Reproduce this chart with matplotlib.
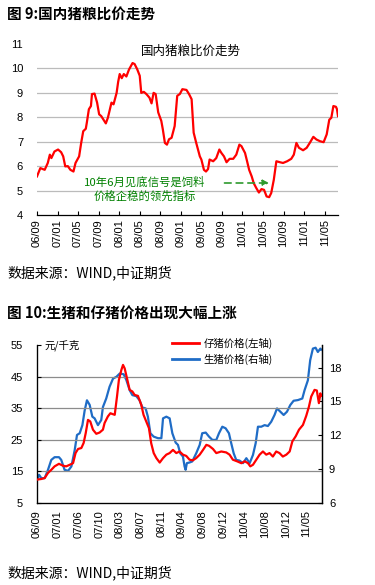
import matplotlib
matplotlib.use("Agg")
import matplotlib.pyplot as plt

plt.rcParams['font.family'] = ['Liberation Sans', 'Noto Sans CJK SC', 'DejaVu Sans']
CJK = ['Noto Sans CJK SC', 'DejaVu Sans']

# ---------------- Chart 9 data: hog/grain price ratio ----------------
ratio_labels = ["06/09", "07/01", "07/05", "07/09", "08/01", "08/05", "08/09", "09/01",
                "09/05", "09/09", "10/01", "10/05", "10/09", "11/01", "11/05"]
# months since 2006-09
ratio_month = [0, 0.65, 1.5, 2.1, 2.5, 2.8, 3.4, 4.1, 4.7, 5.1, 5.5, 6.0, 6.5, 7.1, 7.5, 8.2,
               8.6, 9.0, 9.5, 9.7, 10.1, 10.5, 10.7, 11.2, 11.7, 12.1, 12.5, 13.4, 13.8, 14.5,
               14.9, 15.5, 15.8, 16.1, 16.5, 16.9, 17.4, 17.9, 18.6, 19.0, 19.5, 20.0, 20.3,
               20.8, 21.3, 21.9, 22.3, 22.7, 23.1, 23.6, 24.2, 24.5, 24.9, 25.3, 25.7, 26.2,
               26.8, 27.3, 27.8, 28.3, 29.1, 29.6, 30.1, 30.5, 31.0, 31.7, 32.0, 32.5, 32.9,
               33.3, 33.6, 34.3, 34.9, 35.5, 35.9, 36.4, 36.9, 37.5, 38.2, 38.8, 39.4, 39.8,
               40.5, 40.9, 41.3, 41.8, 42.2, 42.7, 43.2, 43.7, 44.2, 44.7, 45.2, 45.6, 46.1,
               46.6, 47.3, 47.9, 48.7, 49.5, 50.0, 50.5, 51.0, 51.8, 52.5, 53.1, 53.8, 54.4,
               55.1, 55.8, 56.4, 56.9, 57.3, 57.7, 58.2, 58.4, 58.6]
ratio_value = [5.58, 5.92, 5.85, 6.13, 6.47, 6.33, 6.60, 6.68, 6.57, 6.40, 5.99, 6.00, 5.85,
               5.78, 6.13, 6.40, 6.95, 7.43, 7.53, 7.78, 8.33, 8.46, 8.95, 8.97, 8.60, 8.12,
               8.05, 7.75, 7.98, 8.60, 8.53, 9.00, 9.45, 9.77, 9.60, 9.77, 9.67, 9.95, 10.22,
               10.18, 9.97, 9.70, 9.00, 9.04, 8.95, 8.80, 8.57, 9.00, 8.95, 8.20, 7.85, 7.50,
               6.95, 6.88, 7.10, 7.16, 7.64, 8.88, 8.95, 9.15, 9.12, 8.95, 8.74, 7.37, 6.95,
               6.40, 6.27, 5.85, 5.78, 5.88, 6.27, 6.20, 6.33, 6.68, 6.54, 6.40, 6.16, 6.30,
               6.30, 6.47, 6.88, 6.82, 6.54, 6.20, 5.85, 5.58, 5.30, 5.10, 4.92, 5.06, 5.03,
               4.76, 4.73, 4.90, 5.44, 6.20, 6.16, 6.13, 6.20, 6.30, 6.47, 6.95, 6.75, 6.65,
               6.75, 6.95, 7.20, 7.09, 7.02, 6.98, 7.30, 7.90, 7.98, 8.46, 8.43, 8.33, 8.05]

# ---------------- Chart 10 data: piglet & hog prices ----------------
price_labels = ["06/09", "07/01", "07/06", "07/10", "08/03", "08/07", "08/11", "09/04",
                "09/08", "09/12", "10/04", "10/08", "10/12", "11/05"]
# position measured in label periods (0 = 06/09, 13 = 11/05)
piglet_x = [0.00, 0.21, 0.37, 0.53, 0.69, 0.85, 1.06, 1.25, 1.41, 1.58, 1.74, 1.86, 1.98,
            2.14, 2.25, 2.35, 2.46, 2.57, 2.70, 2.86, 3.02, 3.18, 3.26, 3.42, 3.54, 3.75,
            3.86, 3.95, 4.07, 4.15, 4.23, 4.34, 4.47, 4.60, 4.71, 4.87, 5.03, 5.14, 5.27,
            5.40, 5.51, 5.63, 5.76, 5.92, 6.08, 6.24, 6.40, 6.56, 6.72, 6.88, 7.04, 7.20,
            7.36, 7.52, 7.68, 7.85, 8.01, 8.17, 8.30, 8.49, 8.65, 8.89, 9.13, 9.29, 9.45,
            9.65, 9.86, 10.02, 10.18, 10.29, 10.42, 10.58, 10.74, 10.90, 11.06, 11.22, 11.38,
            11.54, 11.70, 11.86, 12.03, 12.19, 12.32, 12.48, 12.64, 12.83, 12.99, 13.12,
            13.23, 13.39, 13.50, 13.60, 13.67, 13.71]
piglet_value = [12.4, 12.6, 12.9, 14.5, 15.5, 16.6, 17.4, 16.8, 16.6, 17.1, 17.6, 20.8, 22.1,
                22.4, 24.0, 27.1, 31.3, 30.8, 28.2, 26.9, 27.3, 28.2, 30.3, 32.4, 33.4, 32.9,
                38.7, 43.9, 47.1, 48.7, 47.6, 44.5, 40.8, 40.3, 39.2, 38.9, 36.1, 32.9, 30.8,
                28.7, 23.9, 20.8, 19.2, 17.8, 19.2, 20.3, 20.8, 21.8, 20.8, 21.3, 20.3, 19.9,
                18.7, 18.5, 19.2, 20.3, 21.8, 23.4, 23.1, 22.1, 20.8, 21.3, 21.0, 20.3, 18.7,
                18.2, 17.6, 18.2, 17.6, 16.6, 17.1, 18.7, 20.3, 21.3, 20.3, 20.8, 19.7, 21.3,
                20.8, 19.7, 20.3, 21.3, 24.5, 26.1, 28.2, 29.7, 32.6, 35.5, 38.7, 40.8, 40.6,
                36.6, 39.7, 38.9]
hog_x = [0.00, 0.10, 0.21, 0.37, 0.53, 0.69, 0.85, 1.06, 1.17, 1.33, 1.50, 1.66, 1.82, 1.93,
         2.06, 2.19, 2.30, 2.41, 2.54, 2.67, 2.78, 2.94, 3.10, 3.18, 3.34, 3.50, 3.67, 3.83,
         3.99, 4.18, 4.31, 4.47, 4.60, 4.79, 4.95, 5.08, 5.24, 5.35, 5.47, 5.63, 5.84, 6.00,
         6.08, 6.24, 6.40, 6.53, 6.69, 6.80, 6.91, 7.04, 7.12, 7.17, 7.23, 7.36, 7.49, 7.68,
         7.85, 7.97, 8.14, 8.30, 8.46, 8.65, 8.78, 8.94, 9.10, 9.26, 9.37, 9.49, 9.61, 9.77,
         9.94, 10.10, 10.26, 10.42, 10.55, 10.66, 10.82, 10.98, 11.14, 11.30, 11.46, 11.58,
         11.74, 11.90, 12.06, 12.22, 12.38, 12.59, 12.80, 12.91, 13.07, 13.18, 13.31, 13.44,
         13.55, 13.67, 13.71]
hog_value = [8.06, 8.50, 8.20, 8.20, 8.94, 9.82, 10.06, 10.06, 9.82, 8.94, 8.85, 9.24, 10.70,
             12.03, 12.18, 12.90, 14.20, 15.10, 14.70, 13.65, 13.50, 12.90, 13.35, 14.50,
             15.26, 16.30, 17.03, 17.18, 17.47, 17.41, 16.90, 16.00, 15.56, 15.47, 15.10,
             14.47, 14.38, 13.65, 12.18, 11.88, 11.74, 11.74, 13.50, 13.65, 13.50, 12.18,
             11.35, 11.15, 10.40, 10.12, 9.24, 8.94, 9.53, 9.59, 9.68, 10.40, 11.15, 12.18,
             12.24, 11.88, 11.59, 11.59, 12.18, 12.76, 12.62, 12.18, 11.30, 10.40, 9.82, 9.76,
             9.53, 9.97, 9.53, 10.26, 11.30, 12.76, 12.76, 12.90, 12.82, 13.20, 13.80, 14.38,
             14.09, 13.80, 14.09, 14.68, 15.06, 15.12, 15.26, 16.00, 16.88, 18.65, 19.68,
             19.76, 19.38, 19.68, 19.59]

RED = '#FF0000'
BLUE = '#1F6CC6'

fig = plt.figure(figsize=(3.75, 5.85), dpi=100)

# ---------------- Figure 9 ----------------
fig.text(7/375, 1 - 14/585, "图 9:国内猪粮比价走势", fontsize=10.5, fontweight='bold',
         family=CJK, ha='left', va='center')

ax1 = fig.add_axes([37/375, 1 - 215/585, 301/375, 171/585])
ax1.plot(ratio_month, ratio_value, color=RED, lw=1.6)
ax1.set_xlim(0, 58.6)
ax1.set_ylim(4, 11)
ax1.set_yticks(range(4, 12))
ax1.set_yticklabels([str(v) for v in range(4, 12)])
for v in range(5, 11):
    ax1.axhline(v, color='#BBBBBB', lw=0.9, zorder=0)
ax1.set_xticks([4 * i for i in range(len(ratio_labels))])
ax1.set_xticklabels(ratio_labels, rotation=90, fontsize=8)
ax1.tick_params(axis='x', direction='in', length=3, width=0.8, pad=3)
ax1.tick_params(axis='y', length=0, pad=10, labelsize=8)
for s in ['top', 'right', 'left']:
    ax1.spines[s].set_visible(False)
ax1.spines['bottom'].set_linewidth(0.9)
ax1.text(0.51, 0.955, "国内猪粮比价走势", transform=ax1.transAxes, ha='center', va='center',
         fontsize=9, family=CJK)
ax1.text(21, 5.05, "10年6月见底信号是饲料\n价格企稳的领先指标", ha='center', va='center',
         fontsize=8.2, color='#008000', family=CJK, linespacing=1.3)
ax1.annotate("", xy=(45.2, 5.31), xytext=(36.5, 5.31),
             arrowprops=dict(arrowstyle='-|>', color='#2E9A2E', lw=1.2, linestyle=(0, (4, 3)),
                             mutation_scale=9, shrinkA=0, shrinkB=0))

fig.text(7/375, 1 - 273/585, "数据来源：WIND,中证期货", fontsize=10, family=CJK,
         ha='left', va='center')

# ---------------- Figure 10 ----------------
fig.text(7/375, 1 - 314/585, "图 10:生猪和仔猪价格出现大幅上涨", fontsize=10.5, fontweight='bold',
         family=CJK, ha='left', va='center')

ax2 = fig.add_axes([37/375, 1 - 503/585, 285/375, 158/585])
ax2.set_xlim(0, 13.75)
ax2.set_ylim(5, 55)
ax2.set_yticks([5, 15, 25, 35, 45, 55])
for v in [15, 25, 35, 45]:
    ax2.axhline(v, color='#8C8C8C', lw=0.9, zorder=0)
l1, = ax2.plot(piglet_x, piglet_value, color=RED, lw=1.6, zorder=3)
ax2.set_xticks(range(len(price_labels)))
ax2.set_xticklabels(price_labels, rotation=90, fontsize=8)
ax2.tick_params(axis='x', length=0, pad=5)
ax2.tick_params(axis='y', direction='in', length=3, width=0.8, pad=10, labelsize=8)
ax2.spines['top'].set_visible(False)
for s in ['left', 'right', 'bottom']:
    ax2.spines[s].set_linewidth(0.9)

ax3 = ax2.twinx()
ax3.set_ylim(6, 20)
ax3.set_yticks([6, 9, 12, 15, 18])
l2, = ax3.plot(hog_x, hog_value, color=BLUE, lw=1.6, zorder=2)
ax3.tick_params(axis='y', direction='in', length=3, width=0.8, pad=5, labelsize=8)
ax3.spines['top'].set_visible(False)
ax3.spines['right'].set_linewidth(0.9)
ax2.set_zorder(ax3.get_zorder() + 1)
ax2.patch.set_visible(False)

ax2.text(0.025, 1.0, "元/千克", transform=ax2.transAxes, ha='left', va='center',
         fontsize=7.5, family=CJK)
leg = ax2.legend([l1, l2], ["仔猪价格(左轴)", "生猪价格(右轴)"], loc='upper left',
                 bbox_to_anchor=(0.46, 1.07), frameon=False, prop={'family': CJK, 'size': 7.5},
                 handlelength=2.6, handletextpad=0.4, labelspacing=0.4, borderaxespad=0)
for h in leg.get_lines():
    h.set_linewidth(2)

fig.text(7/375, 1 - 573/585, "数据来源：WIND,中证期货", fontsize=10, family=CJK,
         ha='left', va='center')

fig.savefig("out.png", dpi=100)
